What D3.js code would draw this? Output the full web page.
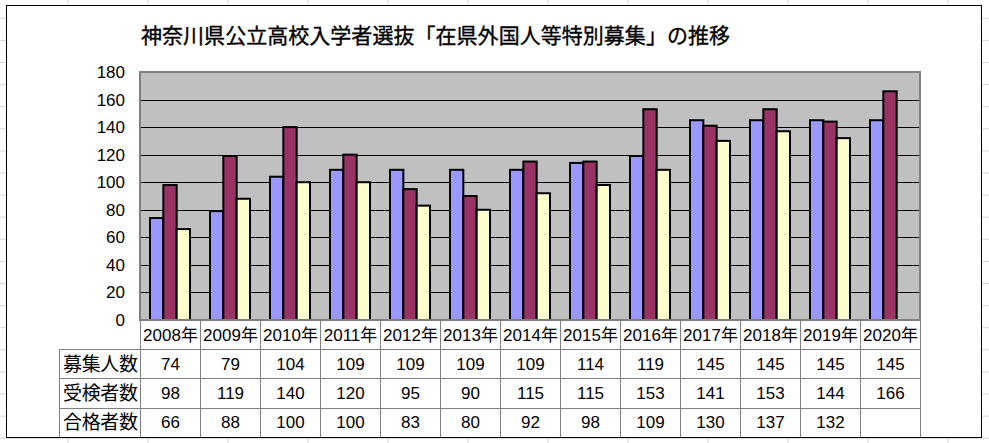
<!DOCTYPE html>
<html>
<head>
<meta charset="utf-8">
<script src="https://cdn.jsdelivr.net/npm/d3@7"></script>
<style>
  html, body { margin: 0; padding: 0; background: #fff; }
  svg { display: block; }
  text { font-family: "Liberation Sans", "Noto Sans CJK JP", sans-serif; fill: #000; }
  .jp { font-family: "Noto Sans CJK JP", sans-serif; }
</style>
</head>
<body>
<svg id="chart" width="989" height="443"></svg>
<script>
// 表示するデータ
var years = ["2008年", "2009年", "2010年", "2011年", "2012年", "2013年", "2014年",
             "2015年", "2016年", "2017年", "2018年", "2019年", "2020年"];
var seriesNames = ["募集人数", "受検者数", "合格者数"];
var boshu   = [74, 79, 104, 109, 109, 109, 109, 114, 119, 145, 145, 145, 145];
var juken   = [98, 119, 140, 120, 95, 90, 115, 115, 153, 141, 153, 144, 166];
var goukaku = [66, 88, 100, 100, 83, 80, 92, 98, 109, 130, 137, 132, null];
var yTicks  = [0, 20, 40, 60, 80, 100, 120, 140, 160, 180];
var title = "神奈川県公立高校入学者選抜「在県外国人等特別募集」の推移";

var seriesValues = [boshu, juken, goukaku];
var colors = ["#9999ff", "#993366", "#ffffcc"];

var svg = d3.select("#chart"),
    W = 989, H = 443,
    frame = {left: 6, top: 5, right: 981, bottom: 437},
    plot = {left: 140, top: 72, right: 920, bottom: 320},
    tableLeft = 59,
    rowH = 29.2;

/****************************
 背景のワークシートの罫線
****************************/
var bg = svg.append("g").attr("class", "sheet");
d3.range(68, W, 80).forEach(function(x) {
    bg.append("line").attr("x1", x).attr("x2", x).attr("y1", 0).attr("y2", H)
        .attr("stroke", "#d4d4d4").attr("stroke-width", 1);
});
d3.range(18.3, H, 22.1).forEach(function(y) {
    bg.append("line").attr("x1", 0).attr("x2", W).attr("y1", y).attr("y2", y)
        .attr("stroke", "#d4d4d4").attr("stroke-width", 1);
});

// グラフエリア
svg.append("rect")
    .attr("x", frame.left + 0.5).attr("y", frame.top + 0.5)
    .attr("width", frame.right - frame.left).attr("height", frame.bottom - frame.top)
    .attr("fill", "#fff").attr("stroke", "#000").attr("stroke-width", 1);

// タイトル
svg.append("text").attr("class", "jp")
    .attr("x", 141).attr("y", 43)
    .attr("font-size", 21)
    .attr("stroke", "#000").attr("stroke-width", 0.35)
    .attr("textLength", 589)
    .text(title);

/****************************
 スケール
****************************/
var x0 = d3.scaleBand()
    .domain(years)
    .range([plot.left, plot.right])
    .paddingInner(1 / 3)
    .paddingOuter(1 / 6);

var x1 = d3.scaleBand()
    .domain(seriesNames)
    .range([0, x0.bandwidth()]);

var y = d3.scaleLinear()
    .domain([0, 180])
    .range([plot.bottom, plot.top]);

var step = x0.step(),
    colLeft = function(i) { return plot.left + i * step; };

// プロットエリア
svg.append("rect")
    .attr("x", plot.left).attr("y", plot.top)
    .attr("width", plot.right - plot.left).attr("height", plot.bottom - plot.top)
    .attr("fill", "#c0c0c0");

// 目盛線
var grid = svg.append("g")
    .attr("transform", "translate(" + plot.left + ",0)")
    .call(d3.axisLeft(y).tickValues(yTicks.slice(1, -1)).tickSize(-(plot.right - plot.left)).tickFormat(""));
grid.select(".domain").remove();
grid.selectAll("line").attr("stroke", "#000").attr("stroke-width", 1)
    .style("shape-rendering", "crispEdges");

// 縦軸ラベル
var yAxis = svg.append("g")
    .attr("transform", "translate(" + (plot.left - 15) + ",0)")
    .call(d3.axisLeft(y).tickValues(yTicks).tickSize(0).tickPadding(0));
yAxis.select(".domain").remove();
yAxis.selectAll("text")
    .attr("font-size", 17)
    .attr("font-family", "Liberation Sans, sans-serif")
    .attr("fill", "#000");

// 棒
var data = years.map(function(yr, i) {
    return {year: yr, values: seriesNames.map(function(s, j) {
        return {key: s, idx: j, value: seriesValues[j][i]};
    })};
});

svg.append("g").attr("class", "bars")
    .selectAll("g")
    .data(data)
    .join("g")
    .attr("transform", d => "translate(" + x0(d.year) + ",0)")
    .selectAll("rect")
    .data(d => d.values.filter(v => v.value != null))
    .join("rect")
    .attr("x", d => x1(d.key))
    .attr("y", d => y(d.value))
    .attr("width", x1.bandwidth())
    .attr("height", d => y(0) - y(d.value))
    .attr("fill", d => colors[d.idx])
    .attr("stroke", "#000")
    .attr("stroke-width", 2);

// プロットエリアの枠
svg.append("rect")
    .attr("x", plot.left).attr("y", plot.top)
    .attr("width", plot.right - plot.left).attr("height", plot.bottom - plot.top)
    .attr("fill", "none").attr("stroke", "#808080").attr("stroke-width", 2);

/****************************
 データテーブル
****************************/
var table = svg.append("g").attr("class", "table");
var tBottom = frame.bottom;

// 縦線
d3.range(0, years.length + 1).forEach(function(i) {
    table.append("line")
        .attr("x1", colLeft(i) + 0.5).attr("x2", colLeft(i) + 0.5)
        .attr("y1", plot.bottom).attr("y2", tBottom)
        .attr("stroke", "#808080");
});
table.append("line")
    .attr("x1", tableLeft + 0.5).attr("x2", tableLeft + 0.5)
    .attr("y1", plot.bottom + rowH).attr("y2", tBottom)
    .attr("stroke", "#808080");

// 横線
seriesNames.forEach(function(s, j) {
    var yy = Math.round(plot.bottom + rowH * (j + 1)) + 0.5;
    table.append("line")
        .attr("x1", tableLeft).attr("x2", plot.right + 1)
        .attr("y1", yy).attr("y2", yy)
        .attr("stroke", "#808080");
});

// 年ラベル
table.selectAll(".yearLabel")
    .data(years)
    .join("text")
    .attr("class", "yearLabel")
    .attr("x", (d, i) => colLeft(i) + step / 2 + 0.5)
    .attr("y", plot.bottom + rowH / 2)
    .attr("dy", "0.36em")
    .attr("text-anchor", "middle")
    .attr("font-size", 17)
    .text(d => d);

// 系列名と値
seriesNames.forEach(function(s, j) {
    var cy = plot.bottom + rowH * (j + 1.5);
    table.append("text").attr("class", "jp")
        .attr("x", tableLeft + 4).attr("y", cy)
        .attr("dy", "0.36em")
        .attr("font-size", 19)
        .attr("textLength", 75)
        .text(s);
    table.selectAll(".val" + j)
        .data(seriesValues[j])
        .join("text")
        .attr("class", "val" + j)
        .attr("x", (d, i) => colLeft(i) + step / 2 + 0.5)
        .attr("y", cy)
        .attr("dy", "0.36em")
        .attr("text-anchor", "middle")
        .attr("font-size", 17)
        .text(d => d == null ? "" : d);
});
</script>
</body>
</html>
